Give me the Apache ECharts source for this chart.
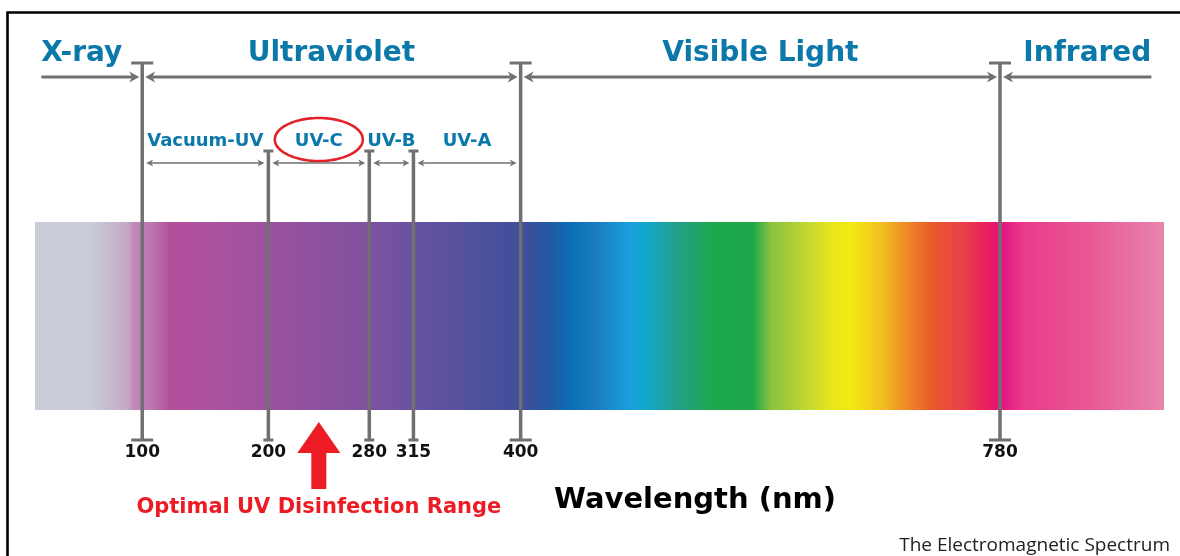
<!DOCTYPE html>
<html>
<head>
<meta charset="utf-8">
<script src="https://cdn.jsdelivr.net/npm/echarts@6.0.0/dist/echarts.min.js"></script>
<style>
html,body{margin:0;padding:0;background:#fff;}
#chart{width:1180px;height:556px;}
</style>
</head>
<body>
<div id="chart"></div>
<script>
// ---------- data ----------
const BAND_NAMES = ['X-ray', 'Ultraviolet', 'Visible Light', 'Infrared'];
const BAND_EDGES = [100, 400, 780];                 // nm, borders between the main bands
const UV_NAMES = ['Vacuum-UV', 'UV-C', 'UV-B', 'UV-A'];
const UV_EDGES = [100, 200, 280, 315, 400];         // nm, borders of the UV sub-bands
const TICK_VALUES = [100, 200, 280, 315, 400, 780]; // nm
const TICK_LABELS = ['100', '200', '280', '315', '400', '780'];
const HIGHLIGHT = 'UV-C';
const NOTE = 'Optimal UV Disinfection Range';
const AXIS_NAME = 'Wavelength (nm)';
const CAPTION = 'The Electromagnetic Spectrum';

// ---------- layout / style ----------
const AXIS_MIN = 15, AXIS_MAX = 910;     // visible wavelength window of the strip
const SPAN_START = 20, SPAN_END = 900;   // extent of the outer arrows
const Y = { majorLabel: 54, majorArrow: 77, majorTop: 63, subLabel: 141, subTop: 151, subArrow: 163,
            bandTop: 222, bandBottom: 410, lineBottom: 440,
            arrowTip: 422, arrowBase: 453, arrowEnd: 489, note: 508, ellipse: 139.5 };
const GRAY = '#707070', BLUE = '#0b78aa', RED = '#ed1c24';
const BOLD = '"DejaVu Sans", sans-serif';
const SPECTRUM_STOPS = [
  [0.000, '#c9ccd6'], [0.050, '#c9ccd6'], [0.070, '#c5b6cc'], [0.083, '#c4a5c5'], [0.087, '#c08ab9'],
  [0.105, '#bb72af'], [0.120, '#b24f9b'], [0.175, '#a8529f'], [0.210, '#9a52a0'], [0.260, '#8a519f'],
  [0.300, '#7d52a0'], [0.345, '#64529f'], [0.400, '#4c509c'], [0.435, '#3e4e9a'], [0.455, '#2258a5'],
  [0.475, '#0b6fb4'], [0.500, '#1c7fc0'], [0.527, '#1aa0dc'], [0.541, '#10a8cc'], [0.568, '#23a08b'],
  [0.600, '#1da84c'], [0.636, '#1fa84b'], [0.652, '#8bc23f'], [0.688, '#c9da2e'], [0.708, '#ebe519'],
  [0.722, '#f3ea0f'], [0.735, '#f3d818'], [0.752, '#f2bb22'], [0.772, '#ee8a27'], [0.796, '#ea572c'],
  [0.822, '#e8404a'], [0.843, '#e81f5c'], [0.856, '#e5137f'], [0.875, '#e83a8c'], [0.930, '#e95592'],
  [1.000, '#e685ae']
];

function head(tip, y, dir, len, half, notch) {
  return [[tip, y], [tip - dir * len, y - half], [tip - dir * (len - notch), y], [tip - dir * len, y + half]];
}

const chart = echarts.init(document.getElementById('chart'), null, { renderer: 'canvas' });

const majorEdges = [SPAN_START].concat(BAND_EDGES, [SPAN_END]);
const majorData = BAND_NAMES.map((n, i) => [majorEdges[i], majorEdges[i + 1]]);
const uvData = UV_NAMES.map((n, i) => [UV_EDGES[i], UV_EDGES[i + 1]]);
const hi = UV_NAMES.indexOf(HIGHLIGHT);

const option = {
  animation: false,
  backgroundColor: '#ffffff',
  grid: { left: 35, right: 16, top: 0, height: 440, containLabel: false },
  xAxis: {
    type: 'value', min: AXIS_MIN, max: AXIS_MAX,
    axisLine: { show: false }, axisTick: { show: false }, splitLine: { show: false },
    axisLabel: {
      customValues: TICK_VALUES,
      formatter: v => TICK_LABELS[TICK_VALUES.indexOf(v)],
      fontFamily: BOLD, fontWeight: 'bold', fontSize: 17, color: '#111', margin: 4
    }
  },
  yAxis: { type: 'value', min: 0, max: 440, inverse: true, show: false },
  graphic: [
    { type: 'rect', left: 5, top: 10, shape: { width: 1300, height: 700 }, style: { fill: 'none', stroke: '#000', lineWidth: 2.6 }, z: 100 },
    { type: 'text', x: 695, y: 500, style: { text: AXIS_NAME, align: 'center', verticalAlign: 'middle', font: 'bold 29px ' + BOLD, fill: '#000' } },
    { type: 'text', x: 1170, y: 546, style: { text: CAPTION, align: 'right', verticalAlign: 'middle', font: '19px "Open Sans", sans-serif', fill: '#222' } }
  ],
  series: [
    { // spectrum strip
      type: 'custom', z: 1, silent: true,
      data: [[AXIS_MIN, AXIS_MAX]],
      renderItem: (params, api) => {
        const p0 = api.coord([api.value(0), Y.bandTop]);
        const p1 = api.coord([api.value(1), Y.bandBottom]);
        return {
          type: 'rect',
          shape: { x: p0[0], y: p0[1], width: p1[0] - p0[0], height: p1[1] - p0[1] },
          style: { fill: new echarts.graphic.LinearGradient(0, 0, 1, 0, SPECTRUM_STOPS.map(s => ({ offset: s[0], color: s[1] }))) }
        };
      }
    },
    { // boundary lines with T caps
      type: 'custom', z: 3, silent: true,
      data: TICK_VALUES.map(v => [v, BAND_EDGES.indexOf(v) >= 0 ? 1 : 0]),
      renderItem: (params, api) => {
        const v = api.value(0), main = api.value(1) === 1;
        const top = api.coord([v, main ? Y.majorTop : Y.subTop]);
        const bot = api.coord([v, Y.lineBottom]);
        const cw = main ? 11 : 5;
        const st = { stroke: GRAY, lineWidth: 3.5 };
        return {
          type: 'group',
          children: [
            { type: 'line', shape: { x1: top[0], y1: top[1], x2: bot[0], y2: bot[1] }, style: st },
            { type: 'line', shape: { x1: top[0] - cw, y1: top[1], x2: top[0] + cw, y2: top[1] }, style: { stroke: GRAY, lineWidth: 3 } },
            { type: 'line', shape: { x1: bot[0] - cw, y1: bot[1], x2: bot[0] + cw, y2: bot[1] }, style: { stroke: GRAY, lineWidth: 3 } }
          ]
        };
      }
    },
    { // main band arrows and labels
      type: 'custom', z: 4, silent: true,
      data: majorData,
      renderItem: (params, api) => {
        const i = params.dataIndex;
        const first = i === 0, last = i === BAND_NAMES.length - 1;
        const a = api.coord([api.value(0), Y.majorArrow]);
        const b = api.coord([api.value(1), Y.majorArrow]);
        const y = a[1], gap = 3, len = 10, half = 5.5, notch = 3;
        const x1 = a[0] + (first ? 0 : gap), x2 = b[0] - (last ? 0 : gap);
        const lx1 = first ? x1 : x1 + (len - notch), lx2 = last ? x2 : x2 - (len - notch);
        const ch = [{ type: 'line', shape: { x1: lx1, y1: y, x2: lx2, y2: y }, style: { stroke: GRAY, lineWidth: 3 } }];
        if (!first) ch.push({ type: 'polygon', shape: { points: head(x1, y, -1, len, half, notch) }, style: { fill: GRAY } });
        if (!last) ch.push({ type: 'polygon', shape: { points: head(x2, y, 1, len, half, notch) }, style: { fill: GRAY } });
        const ly = api.coord([api.value(0), Y.majorLabel])[1];
        ch.push({
          type: 'text',
          style: {
            text: BAND_NAMES[i], x: first ? a[0] : last ? b[0] : (a[0] + b[0]) / 2, y: ly,
            align: first ? 'left' : last ? 'right' : 'center', verticalAlign: 'middle',
            font: 'bold 28px ' + BOLD, fill: BLUE
          }
        });
        return { type: 'group', children: ch };
      }
    },
    { // UV sub-band arrows and labels
      type: 'custom', z: 4, silent: true,
      data: uvData,
      renderItem: (params, api) => {
        const i = params.dataIndex;
        const a = api.coord([api.value(0), Y.subArrow]);
        const b = api.coord([api.value(1), Y.subArrow]);
        const y = a[1], gap = 4, len = 7, half = 3.5, notch = 2;
        const x1 = a[0] + gap, x2 = b[0] - gap;
        const ch = [
          { type: 'line', shape: { x1: x1 + len - notch, y1: y, x2: x2 - len + notch, y2: y }, style: { stroke: GRAY, lineWidth: 1.5 } },
          { type: 'polygon', shape: { points: head(x1, y, -1, len, half, notch) }, style: { fill: GRAY } },
          { type: 'polygon', shape: { points: head(x2, y, 1, len, half, notch) }, style: { fill: GRAY } }
        ];
        const ly = api.coord([api.value(0), Y.subLabel])[1];
        ch.push({
          type: 'text',
          style: { text: UV_NAMES[i], x: (a[0] + b[0]) / 2, y: ly, align: 'center', verticalAlign: 'middle', font: 'bold 18px ' + BOLD, fill: BLUE }
        });
        return { type: 'group', children: ch };
      }
    },
    { // highlighted sub-band: ellipse, red arrow, note
      type: 'custom', z: 5, silent: true,
      data: [[UV_EDGES[hi], UV_EDGES[hi + 1]]],
      renderItem: (params, api) => {
        const cx = (api.coord([api.value(0), 0])[0] + api.coord([api.value(1), 0])[0]) / 2;
        const ce = api.coord([api.value(0), Y.ellipse])[1];
        const rx = 44, ry = 21.5, pts = [];
        for (let k = 0; k < 96; k++) { const t = k / 96 * Math.PI * 2; pts.push([cx + rx * Math.cos(t), ce + ry * Math.sin(t)]); }
        const tip = api.coord([0, Y.arrowTip])[1], base = api.coord([0, Y.arrowBase])[1], end = api.coord([0, Y.arrowEnd])[1];
        const hw = 21.5, sw = 7.5;
        return {
          type: 'group',
          children: [
            { type: 'polygon', shape: { points: pts }, style: { fill: 'none', stroke: '#e32228', lineWidth: 2.6 } },
            { type: 'polygon', shape: { points: [[cx, tip], [cx + hw, base], [cx + sw, base], [cx + sw, end], [cx - sw, end], [cx - sw, base], [cx - hw, base]] }, style: { fill: RED } },
            { type: 'text', style: { text: NOTE, x: cx, y: api.coord([0, Y.note])[1], align: 'center', verticalAlign: 'middle', font: 'bold 21px ' + BOLD, fill: RED } }
          ]
        };
      }
    }
  ]
};
chart.setOption(option);
</script>
</body>
</html>
